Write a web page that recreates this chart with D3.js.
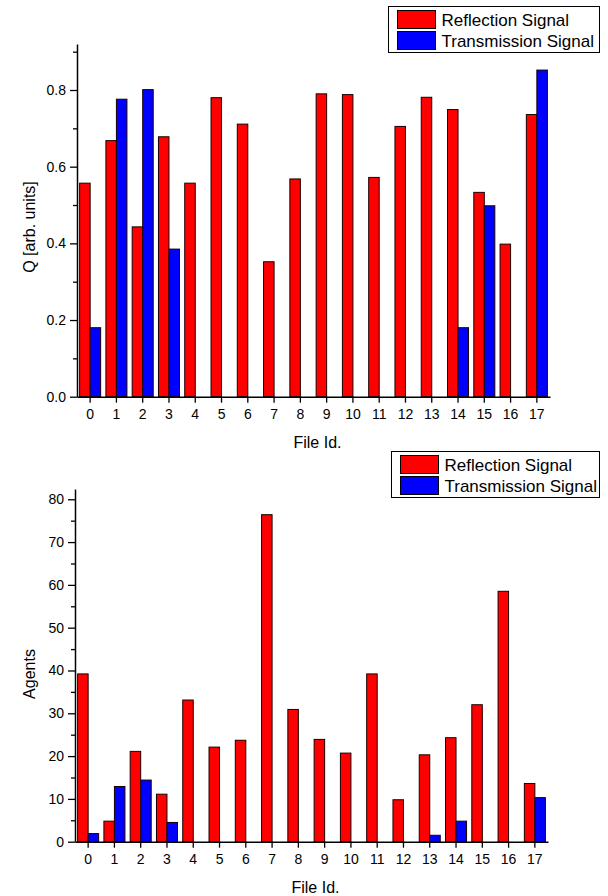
<!DOCTYPE html>
<html>
<head>
<meta charset="utf-8">
<script src="https://cdn.jsdelivr.net/npm/d3@7"></script>
<style>
  html, body { margin: 0; padding: 0; background: #fff; }
  svg { display: block; font-family: "Liberation Sans", Arial, sans-serif; }
</style>
</head>
<body>
<svg id="chart" width="608" height="896"></svg>
<script>
'use strict';

// ── data ─────────────────────────────────────────────────────────────
const fileIds = d3.range(0, 18);
const seriesNames = ['Reflection Signal', 'Transmission Signal'];
const seriesColors = ['#ff0000', '#0000ff'];

// top panel: Q [arb. units]
const qReflection = [0.557, 0.668, 0.443, 0.678, 0.557, 0.780, 0.711, 0.352, 0.568,
                     0.790, 0.788, 0.572, 0.705, 0.781, 0.749, 0.533, 0.398, 0.736];
const qTransmission = [0.180, 0.776, 0.801, 0.385, null, null, null, null, null,
                       null, null, null, null, null, 0.180, 0.498, null, 0.852];

// bottom panel: Agents
const agentsReflection = [39.2, 4.8, 21.1, 11.1, 33.1, 22.1, 23.7, 76.4, 30.9,
                          23.9, 20.7, 39.2, 9.8, 20.3, 24.3, 32.0, 58.5, 13.6];
const agentsTransmission = [1.9, 12.9, 14.4, 4.5, null, null, null, null, null,
                            null, null, null, null, 1.5, 4.8, null, null, 10.3];

const svg = d3.select('#chart');

// ── panel drawing ────────────────────────────────────────────────────
function drawPanel(opt) {
  const { left, right, top, bottom, yMax, majorTicks, minorTicks, fmt,
          yLabel, yLabelY, series, legend } = opt;
  const g = svg.append('g');

  const x = d3.scaleBand()
    .domain(fileIds)
    .range([left, right])
    .paddingInner(0.2)
    .paddingOuter(0.1);

  const xs = d3.scaleBand()
    .domain([0, 1])
    .range([0, x.bandwidth()]);

  const y = d3.scaleLinear().domain([0, yMax]).range([bottom, top]);

  // bars
  series.forEach((vals, si) => {
    g.append('g')
      .selectAll('rect')
      .data(fileIds.filter(i => vals[i] != null))
      .join('rect')
      .attr('x', i => x(i) + xs(si))
      .attr('y', i => y(vals[i]))
      .attr('width', xs.bandwidth())
      .attr('height', i => y(0) - y(vals[i]))
      .attr('fill', seriesColors[si])
      .attr('stroke', '#1a0000')
      .attr('stroke-width', 1);
  });

  // y axis minor ticks
  g.append('g')
    .attr('transform', `translate(${left},0)`)
    .call(d3.axisLeft(y).tickValues(minorTicks).tickSize(4).tickFormat(''))
    .call(a => a.select('.domain').remove())
    .call(a => a.selectAll('line').attr('stroke-width', 1.3));

  // y axis major
  const ya = g.append('g')
    .attr('transform', `translate(${left},0)`)
    .call(d3.axisLeft(y).tickValues(majorTicks).tickSize(7).tickSizeOuter(0).tickFormat(fmt));
  ya.select('.domain').attr('stroke-width', 1.5);
  ya.selectAll('line').attr('stroke-width', 1.3);
  ya.selectAll('text').attr('font-size', 14).attr('fill', '#000')
    .attr('font-family', '"Liberation Sans", Arial, sans-serif').attr('dx', '-1');

  // x axis
  const xa = g.append('g')
    .attr('transform', `translate(0,${bottom})`)
    .call(d3.axisBottom(x).tickSize(6).tickSizeOuter(0).tickPadding(6));
  xa.select('.domain').attr('stroke-width', 1.5);
  xa.selectAll('line').attr('stroke-width', 1.3);
  xa.selectAll('text').attr('font-size', 14).attr('fill', '#000')
    .attr('font-family', '"Liberation Sans", Arial, sans-serif');

  // axis titles
  g.append('text')
    .attr('x', (left + right) / 2 + 4)
    .attr('y', bottom + 51)
    .attr('text-anchor', 'middle')
    .attr('font-size', 16)
    .text('File Id.');

  g.append('text')
    .attr('transform', `translate(35,${yLabelY}) rotate(-90)`)
    .attr('text-anchor', 'middle')
    .attr('font-size', 16)
    .text(yLabel);

  // legend
  const lg = g.append('g').attr('transform', `translate(${legend.x},${legend.y})`);
  lg.append('rect')
    .attr('width', legend.w).attr('height', 46)
    .attr('fill', '#fff').attr('stroke', '#000').attr('stroke-width', 1);
  seriesNames.forEach((name, i) => {
    lg.append('rect')
      .attr('x', 9).attr('y', 4 + i * 21)
      .attr('width', 38).attr('height', 18)
      .attr('fill', seriesColors[i])
      .attr('stroke', '#000').attr('stroke-width', 1);
    lg.append('text')
      .attr('x', 53).attr('y', 19 + i * 21)
      .attr('font-size', 17)
      .text(name);
  });
}

drawPanel({
  left: 77, right: 550, top: 44, bottom: 396.7,
  yMax: 0.92,
  majorTicks: [0, 0.2, 0.4, 0.6, 0.8],
  minorTicks: [0.1, 0.3, 0.5, 0.7, 0.9],
  fmt: d3.format('.1f'),
  yLabel: 'Q [arb. units]', yLabelY: 227,
  series: [qReflection, qTransmission],
  legend: { x: 388.5, y: 6.5, w: 211 }
});

drawPanel({
  left: 75, right: 548, top: 489, bottom: 841.7,
  yMax: 82.4,
  majorTicks: [0, 10, 20, 30, 40, 50, 60, 70, 80],
  minorTicks: [5, 15, 25, 35, 45, 55, 65, 75],
  fmt: d3.format('d'),
  yLabel: 'Agents', yLabelY: 674,
  series: [agentsReflection, agentsTransmission],
  legend: { x: 391.5, y: 451.5, w: 208 }
});
</script>
</body>
</html>
